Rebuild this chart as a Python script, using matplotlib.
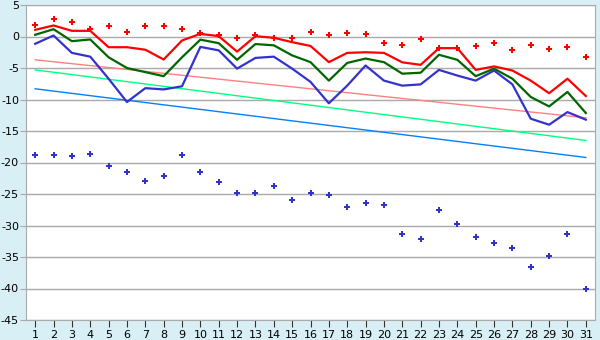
import matplotlib
matplotlib.use("Agg")
import matplotlib.pyplot as plt

plt.rcParams['axes.unicode_minus'] = False

days = list(range(1, 32))

# daily series
red_line = [1.06, 1.75, 0.9, 0.9, -1.7, -1.7, -2.1, -3.65, -0.63, 0.42,
            0.05, -2.4, 0.05, -0.2, -0.9, -1.5, -4.07, -2.6, -2.5, -2.6,
            -4.1, -4.5, -1.85, -1.85, -5.3, -4.75, -5.4, -7.0, -9.0, -6.7, -9.45]
green_line = [0.27, 1.16, -0.74, -0.47, -3.3, -5.0, -5.65, -6.3, -3.3, -0.5,
              -1.06, -3.7, -1.2, -1.4, -3.0, -4.07, -7.0, -4.2, -3.5, -4.07,
              -5.9, -5.75, -2.9, -3.7, -6.3, -5.1, -6.7, -9.6, -11.1, -8.8, -12.15]
blue_line = [-1.16, 0.16, -2.6, -3.2, -6.7, -10.4, -8.2, -8.4, -7.9, -1.65,
             -2.2, -5.1, -3.4, -3.2, -5.1, -7.2, -10.6, -7.8, -4.6, -7.0,
             -7.8, -7.6, -5.3, -6.2, -7.0, -5.4, -7.6, -13.05, -14.0, -12.0, -13.2]
red_points = [1.85, 2.8, 2.3, 1.2, 1.6, 0.7, 1.6, 1.6, 1.2, 0.5,
              0.16, -0.2, 0.2, -0.2, -0.2, 0.7, 0.27, 0.6, 0.42, -1.0,
              -1.3, -0.37, -1.8, -1.8, -1.43, -1.0, -2.1, -1.3, -1.95, -1.6, -3.2]
blue_points = [-18.75, -18.75, -18.9, -18.6, -20.55, -21.5, -22.9, -22.1, -18.75, -21.5,
               -23.05, -24.8, -24.8, -23.7, -25.9, -24.8, -25.1, -27.0, -26.4, -26.7,
               -31.3, -32.2, -27.6, -29.7, -31.75, -32.85, -33.5, -36.65, -34.9, -31.3, -40.1]

# trend lines (end points)
trend_x = [1, 31]
pink_trend = [-3.7, -12.9]
mint_trend = [-5.3, -16.5]
azure_trend = [-8.3, -19.2]

bg = '#d9eff6'
fig = plt.figure(figsize=(6, 3.4), dpi=100, facecolor=bg)
ax = fig.add_axes([26 / 600, 20 / 340, 569 / 600, 315 / 340])
ax.set_facecolor('white')

ax.plot(trend_x, pink_trend, color='#ff8080', lw=1)
ax.plot(trend_x, mint_trend, color='#00ff80', lw=1)
ax.plot(trend_x, azure_trend, color='#0080ff', lw=1)

ax.plot(days, blue_line, color='#3333cc', lw=1.6)
ax.plot(days, green_line, color='#006600', lw=1.6)
ax.plot(days, red_line, color='#ff0000', lw=1.6)

ax.plot(days, red_points, ls='none', marker='P', ms=5, color='#ff0000', mew=0)
ax.plot(days, blue_points, ls='none', marker='P', ms=5, color='#3333cc', mew=0)

ax.set_xlim(0.5, 31.5)
ax.set_ylim(-45, 5)
ax.set_xticks(days)
ax.set_yticks(range(-45, 6, 5))
ax.grid(axis='y', color='#aaaaaa', lw=1)
ax.set_axisbelow(True)

for side in ['left', 'right', 'bottom', 'top']:
    ax.spines[side].set_color('#aaaaaa')
ax.tick_params(axis='x', length=5, color='#333333', labelsize=8, pad=2)
ax.tick_params(axis='y', length=4, color='#aaaaaa', labelsize=8, pad=1)

fig.savefig('out.png', dpi=100, facecolor=bg)
